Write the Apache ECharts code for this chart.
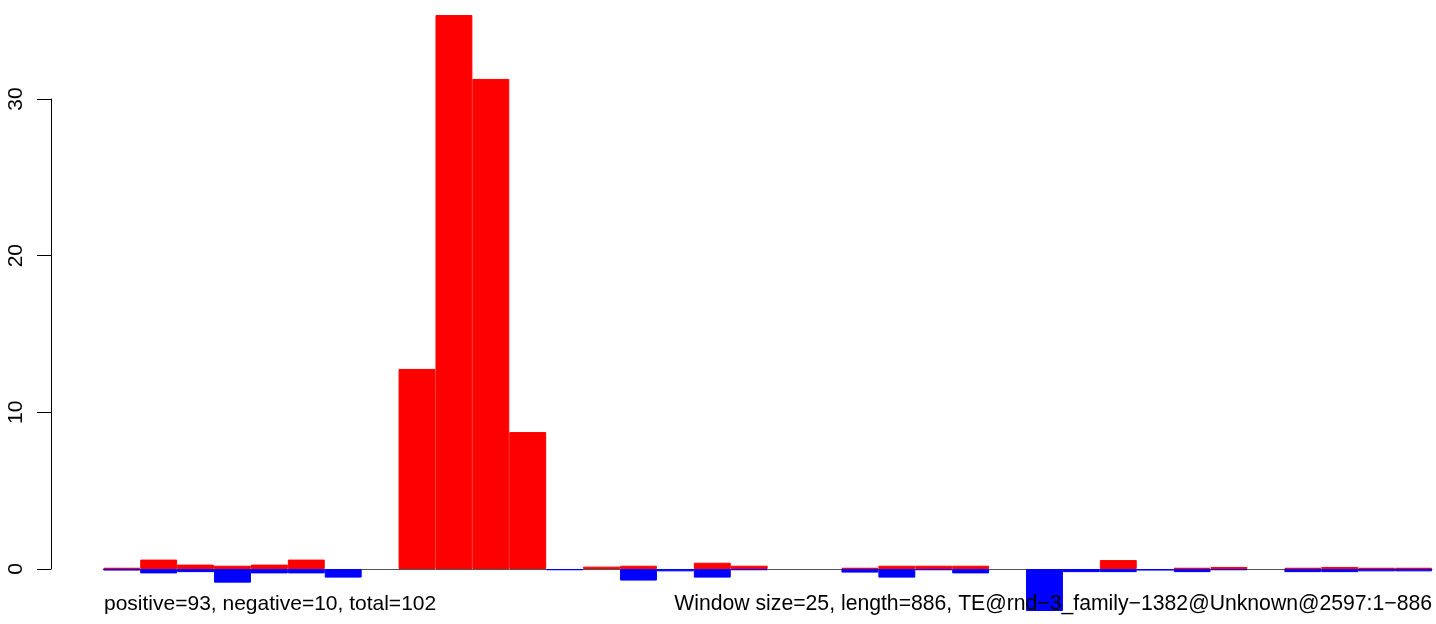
<!DOCTYPE html>
<html>
<head>
<meta charset="utf-8">
<script src="https://cdn.jsdelivr.net/npm/echarts@6/dist/echarts.min.js"></script>
<style>
html,body{margin:0;padding:0;background:#fff;}
#chart{width:1436px;height:624px;}
</style>
</head>
<body>
<div id="chart"></div>
<script>
// 36 windows of 25 bp along the 886 bp element (null = no bar in that window)
const windows = Array.from({length: 36}, (_, i) => 'w' + (i + 1));
const positiveValues = [0.08, 0.6, 0.28, 0.21, 0.28, 0.6, null, null, 12.77, 35.36, 31.28, 8.74,
  null, 0.15, 0.21, null, 0.4, 0.21, null, null, 0.08, 0.21, 0.21, 0.21,
  null, null, null, 0.57, null, 0.08, 0.13, null, 0.08, 0.13, 0.08, 0.08];
const negativeValues = [-0.1, -0.28, -0.2, -0.87, -0.28, -0.28, -0.55, null, null, null, null, null,
  -0.08, null, -0.74, -0.15, -0.55, -0.08, null, null, -0.23, -0.55, -0.08, -0.28,
  null, -2.68, -0.2, -0.2, -0.1, -0.2, -0.08, null, -0.2, -0.2, -0.15, -0.15];
const yTicks = [0, 10, 20, 30];
const leftNote = 'positive=93, negative=10, total=102';
const rightNote = 'Window size=25, length=886, TE@rnd\u22123_family\u22121382@Unknown@2597:1\u2212886';

const chart = echarts.init(document.getElementById('chart'));
const font = 'Liberation Sans, Arial, sans-serif';
chart.setOption({
  animation: false,
  backgroundColor: '#ffffff',
  title: [
    {text: leftNote, left: 104, top: 594, padding: 0,
     textStyle: {fontFamily: font, fontSize: 21, fontWeight: 'normal', color: '#000', lineHeight: 21}},
    {text: rightNote, right: 4, top: 594, padding: 0,
     textStyle: {fontFamily: font, fontSize: 21.2, fontWeight: 'normal', color: '#000', lineHeight: 21}}
  ],
  grid: [
    {left: 103.3, right: 4, top: 5, bottom: 8},
    {left: 51, width: 10, top: 99, bottom: 55}
  ],
  xAxis: [
    {type: 'category', data: windows, gridIndex: 0,
     axisLine: {show: true, onZero: true, lineStyle: {color: '#555', width: 1}},
     axisTick: {show: false}, axisLabel: {show: false}, splitLine: {show: false}},
    {type: 'value', gridIndex: 1, show: false}
  ],
  yAxis: [
    {type: 'value', gridIndex: 0, min: -3, max: 36, show: false, splitLine: {show: false}},
    {type: 'value', gridIndex: 1, min: 0, max: 30, interval: 10,
     axisLine: {show: true, lineStyle: {color: '#000', width: 1}},
     axisTick: {show: true, length: 14, lineStyle: {color: '#000', width: 1}},
     axisLabel: {show: true, rotate: 90, margin: 24, fontFamily: font, fontSize: 21, color: '#000',
       customValues: yTicks},
     splitLine: {show: false}}
  ],
  series: [
    {type: 'bar', xAxisIndex: 0, yAxisIndex: 0, data: positiveValues,
     barCategoryGap: 0, barGap: '-100%',
     itemStyle: {color: '#ff0000', borderColor: '#ff0000', borderWidth: 1}},
    {type: 'bar', xAxisIndex: 0, yAxisIndex: 0, data: negativeValues,
     barCategoryGap: 0, barGap: '-100%',
     itemStyle: {color: '#0000ff', borderColor: '#0000ff', borderWidth: 1}}
  ]
});
</script>
</body>
</html>
